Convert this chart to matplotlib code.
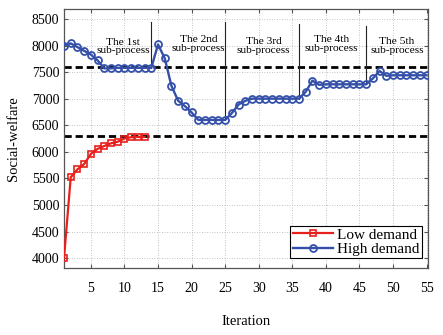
import matplotlib
matplotlib.use("Agg")
import matplotlib.pyplot as plt
import numpy as np

# Data
iters_low = np.arange(1, 14)
low_demand = [4000, 5520, 5670, 5770, 5960, 6055, 6110, 6160, 6190, 6250, 6275, 6280, 6280]

iters_high = np.arange(1, 56)
high_demand = [8000, 8040, 7970, 7900, 7830, 7720, 7570, 7570, 7580, 7580,
               7580, 7580, 7580, 7580, 8020, 7760, 7240, 6960, 6860, 6740,
               6600, 6600, 6600, 6600, 6600, 6730, 6890, 6960, 7000, 7000,
               7000, 7000, 7000, 7000, 7000, 7000, 7130, 7340, 7260, 7270,
               7270, 7270, 7270, 7270, 7270, 7270, 7380, 7520, 7430, 7440,
               7440, 7440, 7440, 7440, 7440]

ref_levels = [7600, 6300]

# sub-process boundaries: (iteration, line top)
boundaries = [14, 25, 36, 46]
boundary_tops = [8450, 8450, 8400, 8360]

phase_labels = ["The 1st\nsub-process", "The 2nd\nsub-process", "The 3rd\nsub-process",
                "The 4th\nsub-process", "The 5th\nsub-process"]
phase_x = [9.8, 21.0, 30.7, 40.8, 50.6]
phase_y = [7980, 8030, 7995, 8030, 7995]

RED = "#e8201c"
BLUE = "#3450a8"
AXIS_COLOR = "#555555"

plt.rcParams["font.family"] = ["Liberation Serif", "DejaVu Serif"]

fig = plt.figure(figsize=(4.43, 3.35), dpi=100)
ax = fig.add_axes([0.1445, 0.201, 0.8215, 0.771])

for lvl in ref_levels:
    ax.plot([1, 55.2], [lvl, lvl], color="black", linestyle=(0, (2.6, 1.4)), linewidth=2.0, zorder=2)

ax.plot(iters_low, low_demand, color=RED, marker="s", markersize=4.5, markerfacecolor="none",
        markeredgewidth=1.2, linewidth=1.6, label="Low demand", zorder=3)
ax.plot(iters_high, high_demand, color=BLUE, marker="o", markersize=5, markerfacecolor="none",
        markeredgewidth=1.3, linewidth=1.7, label="High demand", zorder=3)

for b, top in zip(boundaries, boundary_tops):
    ax.plot([b, b], [high_demand[b - 1], top], color="#222222", linewidth=0.8, zorder=2)

for txt, x, y in zip(phase_labels, phase_x, phase_y):
    ax.text(x, y, txt, ha="center", va="center", fontsize=8.2, linespacing=0.95, zorder=4)

ax.set_xlim(1, 55.2)
ax.set_ylim(3820, 8680)
ax.set_xticks(range(5, 56, 5))
ax.set_yticks(range(4000, 8501, 500))

ax.grid(True, linestyle=(0, (1, 2)), color="#b0b0b0", linewidth=0.6)
ax.tick_params(direction="in", top=True, right=True, length=3, color=AXIS_COLOR,
               labelsize=10)
ax.tick_params(axis="x", pad=10)
for side in ax.spines.values():
    side.set_color(AXIS_COLOR)
    side.set_linewidth(0.9)

ax.set_xlabel("Iteration", fontsize=10.5, labelpad=15)
ax.set_ylabel("Social-welfare", fontsize=10.5, labelpad=8)

leg = ax.legend(loc="lower right", bbox_to_anchor=(0.983, 0.036), fontsize=11, frameon=True,
                fancybox=False, edgecolor="black", borderpad=0.15, labelspacing=0.05,
                handlelength=2.6, handletextpad=0.3, borderaxespad=0, framealpha=1)
leg.get_frame().set_linewidth(0.8)

fig.savefig("out.png", dpi=100)
